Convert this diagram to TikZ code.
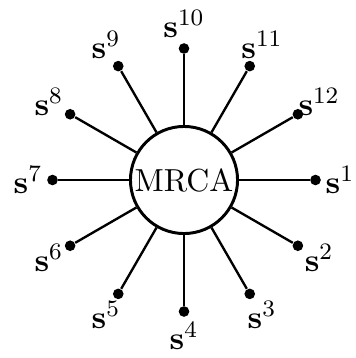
\documentclass[tikz,border=0pt]{standalone}
\begin{document}
\begin{tikzpicture}[x=0.339pt,y=0.339pt,
  hub/.style={circle,draw,line width=1pt,minimum size=36.3pt,inner sep=0pt,font=\fontsize{10.8}{13}\selectfont},
  leaf/.style={circle,fill=black,inner sep=0pt,minimum size=3.6pt},
  spoke/.style={line width=0.8pt},
  tag/.style={inner sep=0pt,font=\fontsize{11}{13}\selectfont}]
\useasboundingbox (-184,-178) rectangle (172,180);
\node[hub] (m) at (0,0) {MRCA};
\foreach \i in {1,...,12} {
  \pgfmathsetmacro\a{-30*(\i-1)}
  \node[leaf] (d\i) at (\a:131.5) {};
  \node[tag] (l\i) at (\a:156) {$\mathbf{s}^{\i}$};
  \draw[spoke] (m) -- (d\i);
}
\end{tikzpicture}
\end{document}
